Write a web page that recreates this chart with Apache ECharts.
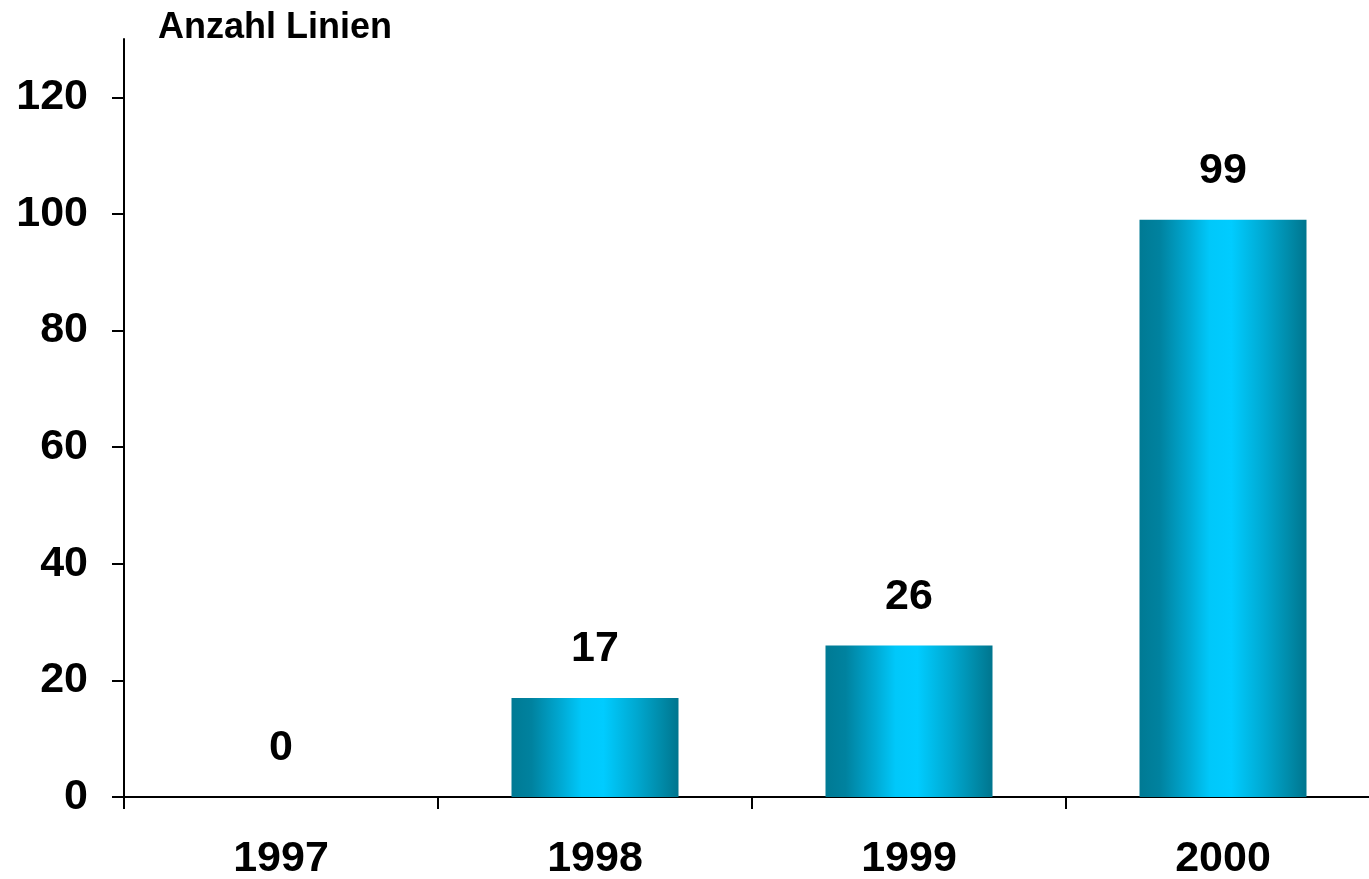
<!DOCTYPE html>
<html>
<head>
<meta charset="utf-8">
<script src="https://cdn.jsdelivr.net/npm/echarts@6/dist/echarts.min.js"></script>
<style>
html,body{margin:0;padding:0;background:#fff;}
#c{width:1369px;height:879px;}
</style>
</head>
<body>
<div id="c"></div>
<script>
const categories = ['1997', '1998', '1999', '2000'];
const values = [0, 17, 26, 99];
const yTicks = [0, 20, 40, 60, 80, 100, 120];
const yTitle = 'Anzahl Linien';

const font = '"Liberation Sans", Arial, sans-serif';
const chart = echarts.init(document.getElementById('c'));
chart.setOption({
  animation: false,
  backgroundColor: '#ffffff',
  grid: { left: 124, width: 1256, top: 39, bottom: 82, containLabel: false, outerBoundsMode: 'none' },
  title: {
    text: yTitle, left: 153, top: 5,
    textStyle: { fontFamily: font, fontWeight: 'bold', fontSize: 36, color: '#000' }
  },
  xAxis: {
    type: 'category', data: categories,
    axisLine: { lineStyle: { color: '#000', width: 2 } },
    axisTick: { show: true, length: 12, lineStyle: { color: '#000', width: 2 } },
    axisLabel: { margin: 41, fontFamily: font, fontWeight: 'bold', fontSize: 43, color: '#000' }
  },
  yAxis: {
    type: 'value', min: 0, max: 130, interval: 20,
    splitLine: { show: false },
    axisLine: { show: true, lineStyle: { color: '#000', width: 2 } },
    axisTick: { show: true, length: 12, lineStyle: { color: '#000', width: 2 }, customValues: yTicks },
    axisLabel: { margin: 36, fontFamily: font, fontWeight: 'bold', fontSize: 43, color: '#000', customValues: yTicks }
  },
  series: [{
    type: 'bar', data: values, barWidth: 167,
    itemStyle: {
      color: new echarts.graphic.LinearGradient(0, 0, 1, 0, [
        { offset: 0, color: '#007a94' },
        { offset: 0.12, color: '#00829f' },
        { offset: 0.3, color: '#00aad4' },
        { offset: 0.42, color: '#00c8fa' },
        { offset: 0.55, color: '#00ccff' },
        { offset: 0.75, color: '#00a8d0' },
        { offset: 0.9, color: '#008aa8' },
        { offset: 1, color: '#00758e' }
      ])
    },
    label: {
      show: true, position: 'top', distance: 27,
      fontFamily: font, fontWeight: 'bold', fontSize: 43, color: '#000'
    }
  }]
});
</script>
</body>
</html>
